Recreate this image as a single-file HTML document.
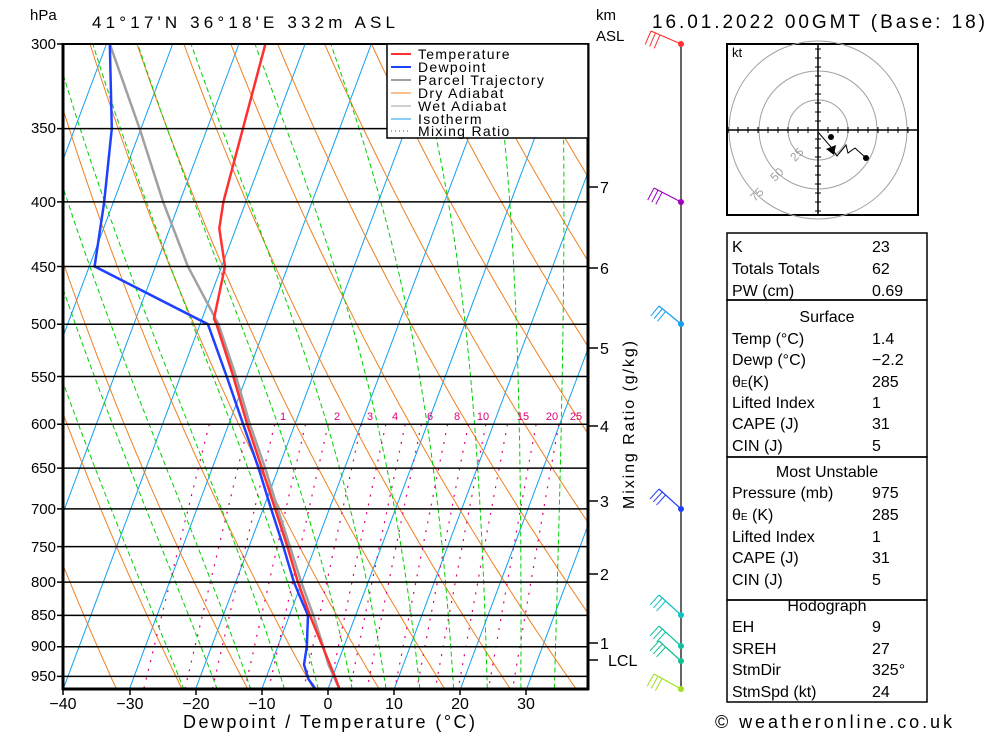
<!DOCTYPE html>
<html><head><meta charset="utf-8"><style>
body{margin:0;background:#fff;}
svg{display:block;font-family:"Liberation Sans",sans-serif;}
</style></head><body>
<svg id="s" width="1000" height="733" viewBox="0 0 1000 733" xmlns="http://www.w3.org/2000/svg">
<defs><clipPath id="cp"><rect x="63" y="44" width="525" height="645"/></clipPath></defs>
<g id="bg" clip-path="url(#cp)"></g>
<g id="fg"></g>
<g font-size="17" fill="#000">
<text x="30" y="20" font-size="15">hPa</text>
<text x="92" y="28" textLength="303" lengthAdjust="spacing">41°17'N  36°18'E  332m  ASL</text>
<text x="596" y="20" font-size="15">km</text>
<text x="596" y="41" font-size="15">ASL</text>
<text x="652" y="28" font-size="19" textLength="333" lengthAdjust="spacing">16.01.2022  00GMT  (Base: 18)</text>
<text x="715" y="728" font-size="18" textLength="237" lengthAdjust="spacing">© weatheronline.co.uk</text>
<text x="183" y="728" font-size="18" textLength="292" lengthAdjust="spacing">Dewpoint / Temperature (°C)</text>
</g>
<g font-size="15" text-anchor="end">
<text x="56" y="49">300</text><text x="56" y="133">350</text><text x="56" y="207">400</text>
<text x="56" y="272">450</text><text x="56" y="329">500</text><text x="56" y="382">550</text>
<text x="56" y="429">600</text><text x="56" y="473">650</text><text x="56" y="514">700</text>
<text x="56" y="552">750</text><text x="56" y="587">800</text><text x="56" y="620">850</text>
<text x="56" y="651">900</text><text x="56" y="681">950</text>
</g>
<g font-size="16" text-anchor="middle">
<text x="63" y="709">−40</text><text x="130" y="709">−30</text><text x="196" y="709">−20</text>
<text x="262" y="709">−10</text><text x="328" y="709">0</text><text x="394" y="709">10</text>
<text x="460" y="709">20</text><text x="526" y="709">30</text>
</g>
<g font-size="16">
<text x="600" y="193">7</text><text x="600" y="274">6</text><text x="600" y="354">5</text>
<text x="600" y="432">4</text><text x="600" y="507">3</text><text x="600" y="580">2</text>
<text x="600" y="649">1</text><text x="608" y="666">LCL</text>
</g>
<text x="546" y="429" font-size="16" textLength="168" lengthAdjust="spacing" transform="rotate(-90 630 425)">Mixing Ratio (g/kg)</text>
<g font-size="11" fill="#e0007a" text-anchor="middle">
<text x="283" y="420">1</text><text x="337" y="420">2</text><text x="370" y="420">3</text><text x="395" y="420">4</text>
<text x="430" y="420">6</text><text x="457" y="420">8</text><text x="483" y="420">10</text><text x="523" y="420">15</text>
<text x="552" y="420">20</text><text x="576" y="420">25</text>
</g>
<rect x="387" y="44" width="201" height="94" fill="#fff" stroke="#000" stroke-width="1.5"/>
<g stroke-width="2">
<line x1="391" y1="54" x2="411" y2="54" stroke="#ff3030"/>
<line x1="391" y1="67" x2="411" y2="67" stroke="#2040ff"/>
<line x1="391" y1="80" x2="411" y2="80" stroke="#a0a0a0"/>
<line x1="391" y1="93" x2="411" y2="93" stroke="#f08020" stroke-width="1"/>
<line x1="391" y1="106" x2="411" y2="106" stroke="#a0a0a0" stroke-width="1"/>
<line x1="391" y1="119" x2="411" y2="119" stroke="#10a0f0" stroke-width="1"/>
<line x1="391" y1="131" x2="411" y2="131" stroke="#e0007a" stroke-width="1" stroke-dasharray="1,3"/>
</g>
<g font-size="14" letter-spacing="1.3">
<text x="418" y="59">Temperature</text><text x="418" y="72">Dewpoint</text>
<text x="418" y="85">Parcel Trajectory</text><text x="418" y="98">Dry Adiabat</text>
<text x="418" y="111">Wet Adiabat</text><text x="418" y="124">Isotherm</text>
<text x="418" y="136">Mixing Ratio</text>
</g>
<g>
<rect x="727" y="44" width="191" height="171" fill="none" stroke="#000" stroke-width="2"/>
<g fill="none" stroke="#a0a0a0"><circle cx="818" cy="130" r="30"/><circle cx="818" cy="130" r="59"/><circle cx="818" cy="130" r="89"/></g>
<line x1="727" y1="130" x2="918" y2="130" stroke="#000" stroke-width="1.5"/>
<line x1="818" y1="44" x2="818" y2="215" stroke="#000" stroke-width="1.5"/>
<g id="hticks" stroke="#000"></g>
<text x="732" y="57" font-size="13">kt</text>
<g font-size="12" fill="#a0a0a0"><text x="790" y="160" transform="rotate(-45 795 155)">25</text><text x="770" y="180" transform="rotate(-45 775 175)">50</text><text x="750" y="200" transform="rotate(-45 755 195)">75</text></g>
<polyline points="818,132 831,147 837,156 846,145 848,153 855,148 866,158" fill="none" stroke="#000"/>
<circle cx="831" cy="137" r="3"/><circle cx="866" cy="158" r="3"/>
<polygon points="826,149 836,145 834,155" fill="#000"/>
</g>
<g fill="none" stroke="#000" stroke-width="1.5">
<rect x="727" y="233" width="200" height="67"/>
<rect x="727" y="300" width="200" height="157"/>
<rect x="727" y="457" width="200" height="143"/>
<rect x="727" y="600" width="200" height="102"/>
</g>
<g font-size="16">
<text x="732" y="252">K</text><text x="872" y="252">23</text>
<text x="732" y="274">Totals Totals</text><text x="872" y="274">62</text>
<text x="732" y="296">PW (cm)</text><text x="872" y="296">0.69</text>
<text x="827" y="322" text-anchor="middle">Surface</text>
<text x="732" y="344">Temp (°C)</text><text x="872" y="344">1.4</text>
<text x="732" y="365">Dewp (°C)</text><text x="872" y="365">−2.2</text>
<text x="732" y="387">θ<tspan font-size="10">E</tspan>(K)</text><text x="872" y="387">285</text>
<text x="732" y="408">Lifted Index</text><text x="872" y="408">1</text>
<text x="732" y="429">CAPE (J)</text><text x="872" y="429">31</text>
<text x="732" y="451">CIN (J)</text><text x="872" y="451">5</text>
<text x="827" y="477" text-anchor="middle">Most Unstable</text>
<text x="732" y="498">Pressure (mb)</text><text x="872" y="498">975</text>
<text x="732" y="520">θ<tspan font-size="10">E</tspan> (K)</text><text x="872" y="520">285</text>
<text x="732" y="542">Lifted Index</text><text x="872" y="542">1</text>
<text x="732" y="563">CAPE (J)</text><text x="872" y="563">31</text>
<text x="732" y="585">CIN (J)</text><text x="872" y="585">5</text>
<text x="827" y="611" text-anchor="middle">Hodograph</text>
<text x="732" y="632">EH</text><text x="872" y="632">9</text>
<text x="732" y="654">SREH</text><text x="872" y="654">27</text>
<text x="732" y="675">StmDir</text><text x="872" y="675">325°</text>
<text x="732" y="697">StmSpd (kt)</text><text x="872" y="697">24</text>
</g>
</svg>
<script>
(function(){
var NS="http://www.w3.org/2000/svg";
var bg=document.getElementById('bg'),fg=document.getElementById('fg');
function el(par,tag,a){var e=document.createElementNS(NS,tag);for(var k in a)e.setAttribute(k,a[k]);par.appendChild(e);return e;}
function Y(p){return 44+548.6*Math.log(p/300);}
function X(T,y){return 328+6.62*T+0.375*(689-y);}
function P(p,T){var y=Y(p);return X(T,y).toFixed(1)+','+y.toFixed(1);}
function pl(par,pts,st,w,da){var a={points:pts.join(' '),fill:'none',stroke:st,'stroke-width':w||1};if(da)a['stroke-dasharray']=da;el(par,'polyline',a);}
var ps=[];for(var p=300;p<=1000;p+=10)ps.push(p);
for(var T=-130;T<=50;T+=10){pl(bg,[P(300,T),P(1000,T)],'#10a0f0',1);}
for(var th=-30;th<=170;th+=10){var pts=[];ps.forEach(function(p){pts.push(P(p,(th+273.15)*Math.pow(p/1000,0.286)-273.15));});pl(bg,pts,'#f08020',1);}
function es(T){return 6.112*Math.exp(17.67*T/(T+243.5));}
for(var t0=-20;t0<=40;t0+=5){var T=t0+273.15,pts=[P(1000,t0)];for(var p=1000;p>300;p-=5){var tc=T-273.15;var e=es(tc),rs=0.622*e/(p-e);var g=(287*T+2.5e6*rs)/(1004+2.5e6*2.5e6*rs*0.622/(287*T*T))/p;T-=g*5;pts.push(P(p-5,T-273.15));}pl(bg,pts,'#00d000',1,'5,3');}
[0.4,0.7,1,1.5,2,3,4,5,6,8,10,12,15,20,25].forEach(function(w){var pts=[];for(var p=600;p<=1000;p+=10){var e=w*p/(622+w),l=Math.log(e/6.112);pts.push(P(p,243.5*l/(17.67-l)));}pl(bg,pts,'#e0007a',1.2,'2,7');});
[300,350,400,450,500,550,600,650,700,750,800,850,900,950].forEach(function(p){var y=Y(p);el(fg,'line',{x1:57,x2:588,y1:y,y2:y,stroke:'#000','stroke-width':1.5});});
var Tp=[[300,-46],[350,-44.6],[400,-43.4],[420,-42.5],[450,-39.5],[495,-38.2],[500,-37.5],[550,-32],[600,-27.2],[650,-22.5],[700,-18.2],[750,-14.2],[800,-10.6],[850,-6.9],[900,-3.2],[950,0.3],[973,1.8]];
var Td=[[300,-69.5],[350,-64.4],[400,-61.4],[450,-59.2],[500,-38.8],[550,-33],[600,-27.8],[650,-23],[700,-18.8],[750,-14.8],[800,-11.2],[830,-8.8],[850,-7.2],[900,-5.6],[930,-5],[955,-3.5],[973,-1.8]];
var Pa=[[300,-69.5],[350,-60.2],[400,-52.5],[450,-45.1],[500,-37.2],[550,-31.6],[600,-26.8],[650,-22],[700,-17.8],[750,-13.8],[800,-10.1],[850,-6.4],[900,-3.1],[930,-1.3],[973,1.8]];
function prof(d,c,w){pl(bg,d.map(function(a){return P(a[0],a[1]);}),c,w);}
prof(Pa,'#a0a0a0',2.5);prof(Td,'#2040ff',2.5);prof(Tp,'#ff3030',2.5);
el(fg,'line',{x1:63,x2:63,y1:43,y2:690,stroke:'#000','stroke-width':3});
el(fg,'line',{x1:588,x2:588,y1:43,y2:690,stroke:'#000','stroke-width':3});
el(fg,'line',{x1:62,x2:589,y1:689,y2:689,stroke:'#000','stroke-width':3});
el(fg,'line',{x1:62,x2:589,y1:44,y2:44,stroke:'#000','stroke-width':2});
[63,130,196,262,328,394,460,526].forEach(function(x){el(fg,'line',{x1:x,x2:x,y1:689,y2:695,stroke:'#000','stroke-width':1.5});});
[187,268,348,426,501,574,643,660].forEach(function(y){el(fg,'line',{x1:588,x2:598,y1:y,y2:y,stroke:'#000','stroke-width':1.5});});
el(fg,'line',{x1:681,x2:681,y1:44,y2:689,stroke:'#000','stroke-width':1.2});
var winds=[[44,'#ff3030',-30,-13],[202,'#a000c0',-27,-14],[324,'#10a0f0',-22,-18],[509,'#2040ff',-22,-20],[615,'#10c0c0',-22,-20],[646,'#10c0a0',-22,-20],[661,'#10c090',-22,-20],[689,'#a0e020',-27,-15]];
winds.forEach(function(w){var y=w[0],c=w[1],dx=w[2],dy=w[3];el(fg,'line',{x1:681,y1:y,x2:681+dx,y2:y+dy,stroke:c,'stroke-width':1.2});
for(var i=0;i<3;i++){var bx=681+dx*(1-i*0.15),by=y+dy*(1-i*0.15);el(fg,'line',{x1:bx,y1:by,x2:bx+dy*0.45,y2:by-dx*0.45,stroke:c,'stroke-width':1});}
el(fg,'circle',{cx:681,cy:y,r:3,fill:c});});
var h=document.getElementById('hticks');
for(var i=-9;i<=9;i++){if(!i)continue;var d=i*10;el(h,'line',{x1:818+d,x2:818+d,y1:127,y2:133});el(h,'line',{x1:815,x2:821,y1:130+d*0.9,y2:130+d*0.9});}
})();
</script>
</body></html>
